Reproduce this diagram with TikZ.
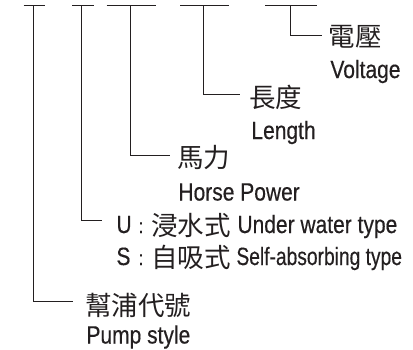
\documentclass[tikz,border=0pt]{standalone}
\usepackage{fontspec}
\setmainfont{Liberation Sans}[FakeStretch=0.84,FakeBold=0.4]
\newfontfamily\cjk{Noto Sans CJK TC}
\definecolor{ink}{HTML}{231F20}
\tikzset{
  zh/.style={font=\cjk\fontsize{26.5}{26.5}\selectfont, inner sep=0pt, anchor=west},
  en/.style={font=\fontsize{25}{25}\selectfont, inner sep=0pt, anchor=base west},
  colon/.style={font=\fontsize{20}{20}\selectfont, inner sep=0pt, anchor=base},
}
\begin{document}
\begin{tikzpicture}[x=1pt,y=-1pt,line width=0.9pt,color=ink]
\useasboundingbox (0,0) rectangle (413,349);
% top bars
\coordinate (a1) at (23.5,5); \coordinate (b1) at (45,5);  \coordinate (t1) at (33,5);
\coordinate (a2) at (72,5);   \coordinate (b2) at (94,5);  \coordinate (t2) at (81,5);
\coordinate (a3) at (106.5,5);\coordinate (b3) at (156,5); \coordinate (t3) at (130,5);
\coordinate (a4) at (180,5);  \coordinate (b4) at (229,5); \coordinate (t4) at (203,5);
\coordinate (a5) at (265,5);  \coordinate (b5) at (316.5,5);\coordinate (t5) at (290.5,5);
\draw (a1) -- (b1); \draw (a2) -- (b2); \draw (a3) -- (b3);
\draw (a4) -- (b4); \draw (a5) -- (b5);
% labels
\node[zh] (volt) at (328.5,36.5) {電壓};
\node[en] (voltE) at (330,78) {Voltage};
\node[zh] (len) at (249,97.5) {長度};
\node[en] (lenE) at (251,139) {Length};
\node[zh] (hp) at (177,157.5) {馬力};
\node[en] (hpE) at (178,200.5) {Horse Power};
\node[en] (u) at (116,233) {U};
\node[colon] (ucol) at (141,233) {:};
\node[zh] (uzh) at (151,225) {浸水式};
\node[en] (uen) at (237,233) {Under water type};
\node[en] (s) at (116,265) {S};
\node[colon] (scol) at (141,265) {:};
\node[zh] (szh) at (151,257) {自吸式};
\node[en] (sen) at (236,265) {\scalebox{0.915}[1]{Self-absorbing type}};
\node[zh] (pump) at (85,305) {幫浦代號};
\node[en] (pumpE) at (86,343.5) {Pump style};
% connectors
\draw (t5) |- ([xshift=-6.5pt,yshift=1.5pt]volt.west);
\draw (t4) |- ([xshift=-9pt,yshift=3.5pt]len.west);
\draw (t3) |- ([xshift=-7pt,yshift=2.5pt]hp.west);
\draw (t2) |- ([xshift=-14pt,yshift=3.6pt]u.west);
\draw (t1) |- ([xshift=-12pt,yshift=4pt]pump.west);
\end{tikzpicture}
\end{document}
